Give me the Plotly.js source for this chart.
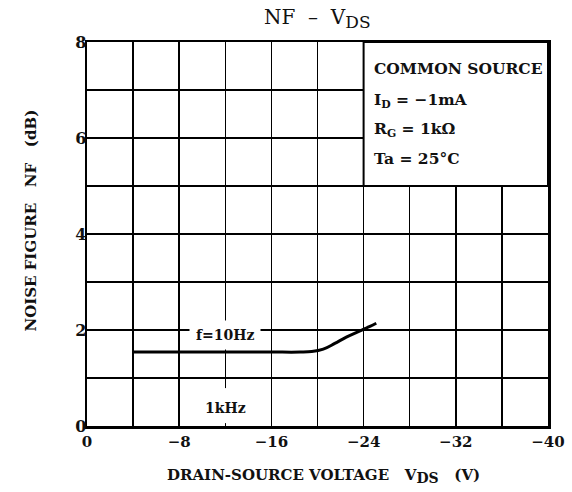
<!DOCTYPE html>
<html>
<head>
<meta charset="utf-8">
<script src="https://cdn.plot.ly/plotly-3.0.1.min.js"></script>
<style>html,body{margin:0;padding:0;background:#fff;}#chart{width:572px;height:492px;}</style>
</head>
<body>
<div id="chart"></div>
<script>
// Data
var vds = [-4, -8, -12, -16, -18.5, -19.5, -20.5, -21.5, -22.5, -23.5, -24.5, -25.1];
var nf  = [1.54, 1.54, 1.54, 1.54, 1.54, 1.55, 1.60, 1.72, 1.85, 1.96, 2.07, 2.14];
var xTickVals = [0, -8, -16, -24, -32, -40];
var xTickText = ["0", "\u22128", "\u221216", "\u221224", "\u221232", "\u221240"];
var yTickVals = [0, 2, 4, 6, 8];
var conditions = ["COMMON SOURCE", "I<sub>D</sub> = \u22121mA", "R<sub>G</sub> = 1k\u03a9", "Ta = 25\u00b0C"];
var condY = [7.44, 6.79, 6.17, 5.58];
var curveLabels = ["f=10Hz", "1kHz"];
var curveLabelX = [-12, -12];
var curveLabelY = [1.9, 0.38];

var FONT = "DejaVu Serif, Liberation Serif, serif";
function sub(t, px) { return '<sub><span style="font-size:' + px + 'px">' + t + '</span></sub>'; }

var annotations = [];
conditions.forEach(function (t, i) {
  annotations.push({x: -24.7, y: condY[i], xref: 'x', yref: 'y', text: t, showarrow: false,
    xanchor: 'left', yanchor: 'middle', font: {family: FONT, size: 15.5, color: '#111', weight: 'bold'}});
});
curveLabels.forEach(function (t, i) {
  annotations.push({x: curveLabelX[i], y: curveLabelY[i], xref: 'x', yref: 'y', text: t, showarrow: false,
    xanchor: 'center', yanchor: 'middle', bgcolor: i === 0 ? 'white' : 'rgba(0,0,0,0)', borderpad: i === 0 ? 6 : 2,
    font: {family: FONT, size: 14, color: '#111', weight: 'bold'}});
});
annotations.push({x: 0.5, y: 1, xref: 'paper', yref: 'paper', yshift: 24, text: "NF  \u2013  V" + sub("DS", 17),
  showarrow: false, xanchor: 'center', yanchor: 'middle', font: {family: FONT, size: 20, color: '#111'}});
annotations.push({x: 0.5, y: 0, xref: 'paper', yref: 'paper', yshift: -50, xshift: 6,
  text: "DRAIN-SOURCE VOLTAGE   V" + sub("DS", 14) + "   (V)", showarrow: false, xanchor: 'center', yanchor: 'middle',
  font: {family: FONT, size: 15, color: '#111', weight: 'bold'}});
annotations.push({x: 0, y: 0.535, xref: 'paper', yref: 'paper', xshift: -56, textangle: -90,
  text: "NOISE FIGURE   NF   (dB)", showarrow: false, xanchor: 'center', yanchor: 'middle',
  font: {family: FONT, size: 15, color: '#111', weight: 'bold'}});

var data = [{x: vds, y: nf, type: 'scatter', mode: 'lines',
  line: {color: '#000', width: 3, shape: 'spline'}, hoverinfo: 'skip'}];

var layout = {
  width: 572, height: 492,
  margin: {l: 87, r: 24, t: 42, b: 66, pad: 0},
  paper_bgcolor: 'white', plot_bgcolor: 'white',
  showlegend: false,
  font: {family: FONT, color: '#111'},
  xaxis: {range: [0, -40], tickmode: 'array', tickvals: xTickVals, ticktext: xTickText,
    showgrid: true, gridcolor: '#000', gridwidth: 1.5, zeroline: false,
    showline: true, mirror: true, linecolor: '#000', linewidth: 2.5, ticks: '',
    minor: {tickmode: 'linear', tick0: 0, dtick: 4, showgrid: true, gridcolor: '#000', gridwidth: 1.5},
    tickfont: {family: FONT, size: 15, color: '#111', weight: 'bold'}, fixedrange: true},
  yaxis: {range: [0, 8], tickmode: 'array', tickvals: yTickVals, ticklabelstandoff: -5,
    showgrid: true, gridcolor: '#000', gridwidth: 1.5, zeroline: false,
    showline: true, mirror: true, linecolor: '#000', linewidth: 2.5, ticks: '',
    minor: {tickmode: 'linear', tick0: 0, dtick: 1, showgrid: true, gridcolor: '#000', gridwidth: 1.5},
    tickfont: {family: FONT, size: 16, color: '#111', weight: 'bold'}, fixedrange: true},
  shapes: [
    {type: 'rect', xref: 'x', yref: 'y', x0: -24, x1: -40, y0: 5, y1: 8,
      fillcolor: 'white', line: {color: '#000', width: 2}, layer: 'above'},
    {type: 'rect', xref: 'x', yref: 'y', x0: -11.6, x1: -12.4, y0: 0.06, y1: 0.79,
      fillcolor: 'white', line: {width: 0}, layer: 'above'}
  ],
  annotations: annotations
};

Plotly.newPlot('chart', data, layout, {displayModeBar: false, staticPlot: true});
</script>
</body>
</html>
